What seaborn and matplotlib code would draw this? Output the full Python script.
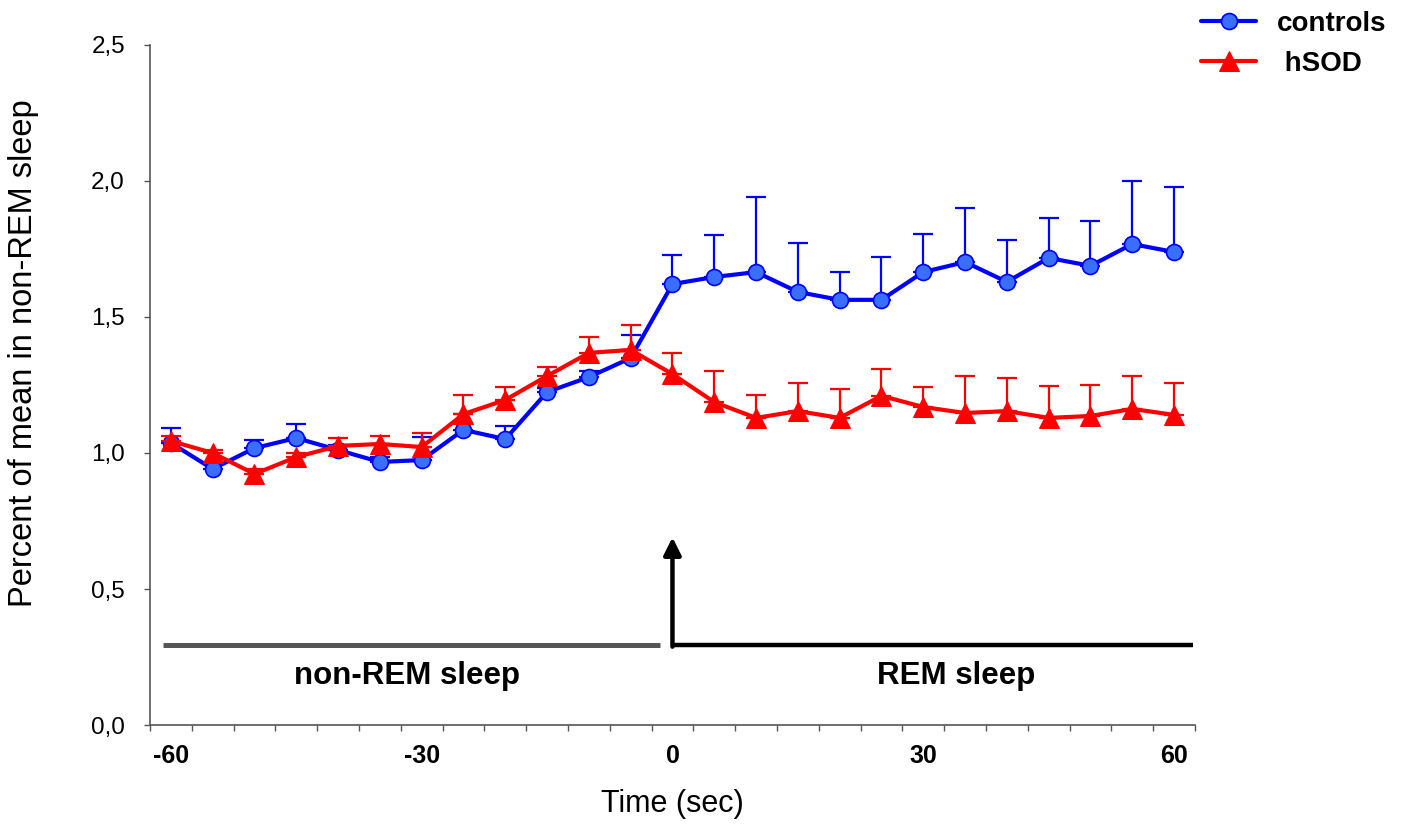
import matplotlib
matplotlib.use("Agg")
from matplotlib import pyplot as plt
from matplotlib.ticker import FuncFormatter
import seaborn as sns
import pandas as pd
import numpy as np

# Time bins (sec), one category every 5 s
time_sec = [-60, -55, -50, -45, -40, -35, -30, -25, -20, -15, -10, -5,
            0, 5, 10, 15, 20, 25, 30, 35, 40, 45, 50, 55, 60]

controls_mean = [1.037, 0.941, 1.018, 1.055, 1.011, 0.967, 0.974, 1.085, 1.051, 1.224, 1.279, 1.349,
                 1.621, 1.647, 1.665, 1.592, 1.563, 1.563, 1.665, 1.702, 1.629, 1.717, 1.688, 1.768, 1.739]
controls_top = [1.092, 0.960, 1.046, 1.107, 1.030, 0.985, 1.060, 1.143, 1.099, 1.240, 1.300, 1.434,
                1.728, 1.801, 1.941, 1.772, 1.665, 1.721, 1.805, 1.901, 1.783, 1.864, 1.853, 2.000, 1.978]

hsod_mean = [1.044, 1.000, 0.923, 0.985, 1.026, 1.033, 1.022, 1.143, 1.195, 1.283, 1.368, 1.379,
             1.290, 1.187, 1.129, 1.154, 1.129, 1.210, 1.169, 1.147, 1.154, 1.129, 1.136, 1.162, 1.140]
hsod_top = [1.062, 1.010, 0.940, 1.000, 1.055, 1.062, 1.074, 1.213, 1.243, 1.316, 1.426, 1.471,
            1.368, 1.301, 1.213, 1.257, 1.235, 1.309, 1.243, 1.283, 1.276, 1.246, 1.250, 1.283, 1.257]

df = pd.DataFrame({
    "time": time_sec * 2,
    "value": controls_mean + hsod_mean,
    "group": ["controls"] * len(time_sec) + ["hSOD"] * len(time_sec),
})

sns.set_style("white")
plt.rcParams["font.family"] = ["Liberation Sans", "DejaVu Sans"]
plt.rcParams["axes.unicode_minus"] = False
plt.rcParams["text.color"] = "black"
plt.rcParams["axes.labelcolor"] = "black"
plt.rcParams["xtick.color"] = "black"
plt.rcParams["ytick.color"] = "black"

fig = plt.figure(figsize=(14.03, 8.25), dpi=100)
ax = fig.add_axes([0.1069, 0.1212, 0.7448, 0.8243])

# upper-only error bars
ax.errorbar(time_sec, controls_mean,
            yerr=[np.zeros(len(time_sec)), np.array(controls_top) - np.array(controls_mean)],
            fmt="none", ecolor="#0000FF", elinewidth=1.6, capsize=7, capthick=1.6, zorder=2)
ax.errorbar(time_sec, hsod_mean,
            yerr=[np.zeros(len(time_sec)), np.array(hsod_top) - np.array(hsod_mean)],
            fmt="none", ecolor="#FF0000", elinewidth=1.6, capsize=7, capthick=1.6, zorder=4)

sns.lineplot(data=df[df.group == "controls"], x="time", y="value", ax=ax,
             color="#0000FF", lw=3, marker="o", markersize=11.5,
             markerfacecolor="#3A6EFF", markeredgecolor="#0000FF", markeredgewidth=1.2,
             label="controls", zorder=3)
sns.lineplot(data=df[df.group == "hSOD"], x="time", y="value", ax=ax,
             color="#FF0000", lw=3, marker="^", markersize=14,
             markerfacecolor="#FF0000", markeredgecolor="#FF0000",
             label=" hSOD", zorder=5)

# sleep stage markers
ax.plot([-60.9, -1.5], [0.294, 0.294], color="#555555", lw=3.6, solid_capstyle="butt")
ax.plot([0, 62.3], [0.294, 0.294], color="black", lw=3.2, solid_capstyle="butt")
ax.annotate("", xy=(0, 0.69), xytext=(0, 0.288),
            arrowprops=dict(arrowstyle="-|>", color="black", lw=3.2, mutation_scale=26,
                            shrinkA=0, shrinkB=0))
ax.text(-31.8, 0.18, "non-REM sleep", ha="center", va="center", fontsize=22.5, fontweight="bold")
ax.text(33.9, 0.18, "REM sleep", ha="center", va="center", fontsize=22.5, fontweight="bold")

ax.set_xlim(-62.5, 62.5)
ax.set_ylim(0, 2.5)
ax.set_xticks([-60, -30, 0, 30, 60])
ax.set_xticks(np.arange(-62.5, 63, 5), minor=True)
ax.set_yticks([0, 0.5, 1.0, 1.5, 2.0, 2.5])
ax.yaxis.set_major_formatter(FuncFormatter(lambda v, p: f"{v:.1f}".replace(".", ",")))
ax.tick_params(axis="x", which="major", length=0, pad=14, labelsize=18)
ax.tick_params(axis="x", which="minor", length=4, width=1, color="#555555", direction="out", bottom=True)
ax.tick_params(axis="y", which="major", length=4, width=1, color="#555555", direction="out", left=True,
               pad=14, labelsize=17.5)
for lab in ax.get_xticklabels():
    lab.set_fontweight("bold")

for s in ["top", "right"]:
    ax.spines[s].set_visible(False)
for s in ["left", "bottom"]:
    ax.spines[s].set_color("#555555")
    ax.spines[s].set_linewidth(1.2)

ax.set_xlabel("Time (sec)", fontsize=22)
ax.xaxis.set_label_coords(0.5, -0.094)
ax.set_ylabel("Percent of mean in non-REM sleep", fontsize=23.5)
ax.yaxis.set_label_coords(-0.106, 0.547)

ax.legend(loc="upper left", bbox_to_anchor=(0.848, 1.0), bbox_transform=fig.transFigure,
          frameon=False, prop={"weight": "bold", "size": 20}, handlelength=2.0,
          handletextpad=0.75, labelspacing=0.5, borderaxespad=0)

plt.savefig("out.png", dpi=100)
